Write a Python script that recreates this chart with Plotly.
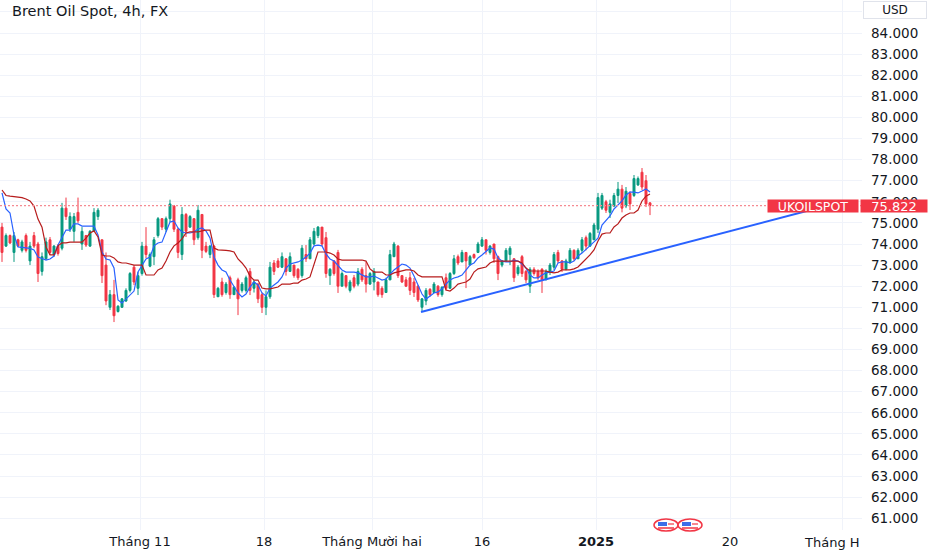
import plotly.graph_objects as go

# 4h candles, Brent Oil Spot
opens = [74.8, 73.9, 74.4, 73.6, 74.2, 73.7, 74.4, 73.2, 74.4, 74.0,
         72.7, 73.3, 74.2, 73.5, 73.9, 73.8, 75.7, 74.7, 74.6, 75.5,
         74.0, 74.4, 73.9, 74.6, 75.3, 74.2, 73.0, 71.0, 71.6, 70.8,
         71.0, 71.3, 71.8, 72.9, 71.9, 72.6, 73.9, 72.95, 73.4, 74.4,
         75.2, 74.7, 75.2, 75.8, 74.7, 73.5, 75.4, 74.8, 75.2, 74.3,
         75.4, 73.9, 73.5, 73.9, 71.5, 72.2, 71.7, 72.4, 71.6, 72.3,
         71.8, 71.8, 72.7, 71.9, 72.1, 71.6, 71.0, 71.5, 73.1, 73.2,
         72.9, 73.3, 72.7, 73.0, 72.8, 72.5, 73.5, 73.3, 74.0, 74.4,
         74.8, 74.3, 72.5, 73.2, 73.6, 72.0, 72.5, 71.8, 72.4, 72.1,
         72.8, 72.5, 72.1, 72.2, 72.2, 71.9, 71.7, 72.3, 73.4, 73.9,
         72.5, 72.3, 72.4, 72.2, 72.0, 71.0, 71.3, 71.85, 71.7, 72.0,
         71.6, 72.4, 71.9, 72.6, 73.4, 73.15, 73.6, 73.0, 73.5, 73.6,
         73.9, 74.2, 73.6, 74.0, 73.4, 73.0, 73.2, 73.5, 73.3, 72.6,
         73.4, 72.7, 72.0, 72.8, 72.7, 72.8, 72.3, 72.7, 72.9, 73.6,
         73.2, 72.8, 73.1, 73.7, 73.3, 73.7, 74.3, 73.9, 74.2, 74.7,
         75.7, 76.0, 75.5, 75.8, 76.3, 76.6, 75.8, 76.4, 76.3, 76.8,
         77.4, 77.0, 75.95]
highs = [75.0, 74.5, 74.45, 74.57, 74.25, 74.2, 74.5, 74.1, 74.57, 74.1,
         73.6, 74.3, 74.33, 73.95, 74.0, 75.95, 76.2, 75.5, 75.47, 76.2,
         74.8, 74.43, 74.66, 75.7, 75.7, 74.2, 73.6, 71.82, 72.3, 71.1,
         71.44, 71.9, 72.67, 73.0, 72.67, 74.1, 74.8, 73.6, 74.33, 75.28,
         75.23, 75.3, 76.1, 75.85, 74.76, 75.75, 75.47, 75.37, 75.23, 75.85,
         75.4, 74.1, 73.95, 73.95, 71.96, 72.4, 72.2, 72.5, 72.0, 72.4,
         72.2, 72.5, 72.86, 72.3, 72.15, 71.7, 71.8, 73.15, 73.24, 73.33,
         73.6, 73.33, 73.6, 73.0, 72.86, 73.95, 73.95, 74.33, 74.76, 74.85,
         74.8, 74.57, 72.86, 73.24, 73.72, 72.7, 72.53, 72.3, 72.53, 72.86,
         72.9, 73.15, 72.67, 72.86, 72.2, 72.0, 72.4, 73.72, 74.1, 73.95,
         72.53, 72.44, 72.67, 72.39, 72.06, 71.44, 71.91, 71.91, 72.2, 72.05,
         72.0, 72.6, 72.67, 73.48, 73.5, 73.72, 73.62, 73.48, 73.55, 74.1,
         74.33, 74.2, 73.95, 74.0, 73.45, 73.24, 73.81, 73.9, 73.33, 73.0,
         73.48, 72.77, 72.9, 72.9, 72.8, 72.86, 72.8, 73.1, 73.62, 73.72,
         73.24, 73.3, 73.81, 73.75, 73.8, 74.33, 74.4, 74.57, 75.0, 76.42,
         76.42, 76.09, 76.1, 76.42, 76.94, 76.8, 76.7, 76.5, 77.27, 77.2,
         77.6, 77.27, 75.97]
lows = [73.15, 73.86, 74.0, 73.15, 73.86, 73.6, 73.6, 73.0, 73.8, 72.2,
        72.5, 73.24, 73.48, 73.4, 73.45, 73.7, 75.14, 74.57, 74.1, 75.0,
        73.72, 73.86, 73.86, 74.57, 75.14, 72.15, 71.1, 70.87, 70.3, 70.75,
        70.97, 71.25, 71.7, 72.05, 71.58, 72.5, 73.33, 72.9, 73.0, 74.3,
        74.66, 74.57, 75.04, 74.57, 73.33, 73.24, 74.33, 74.76, 73.95, 74.2,
        73.33, 73.57, 73.33, 71.44, 71.49, 71.5, 71.6, 71.4, 71.6, 70.63,
        71.7, 71.7, 71.58, 71.7, 71.2, 70.73, 70.63, 71.4, 72.53, 72.86,
        72.86, 72.5, 72.67, 72.4, 72.29, 72.4, 73.15, 73.3, 73.95, 74.28,
        73.9, 72.4, 72.06, 72.5, 71.68, 72.0, 71.9, 71.7, 71.9, 72.0,
        72.2, 71.7, 72.06, 71.8, 71.5, 71.45, 71.7, 72.29, 73.38, 72.39,
        72.15, 71.96, 71.58, 71.49, 71.25, 70.78, 71.1, 71.5, 71.68, 71.5,
        71.5, 71.8, 71.9, 72.53, 73.0, 73.15, 71.91, 73.0, 73.3, 73.57,
        73.86, 73.5, 73.5, 73.1, 72.29, 72.9, 73.15, 73.0, 72.2, 72.5,
        72.44, 72.15, 71.68, 72.5, 72.3, 71.68, 72.3, 72.53, 72.77, 73.1,
        72.67, 72.75, 73.1, 73.2, 73.3, 73.57, 73.7, 73.86, 74.19, 74.52,
        75.61, 75.47, 75.23, 75.75, 75.94, 75.5, 75.7, 75.61, 76.23, 76.75,
        76.56, 75.75, 75.37]
closes = [73.6, 74.4, 74.05, 74.4, 73.9, 74.1, 73.7, 73.9, 73.9, 72.6,
          73.4, 74.1, 73.6, 73.9, 73.55, 75.7, 75.3, 75.3, 75.3, 75.1,
          74.6, 73.95, 74.6, 75.5, 75.6, 72.5, 71.3, 71.6, 70.6, 71.05,
          71.4, 71.8, 72.6, 72.2, 72.5, 73.9, 73.5, 73.5, 74.2, 75.2,
          74.8, 75.2, 75.9, 74.7, 73.6, 75.4, 74.6, 75.3, 74.2, 75.6,
          73.7, 73.65, 73.9, 71.6, 71.9, 71.6, 72.1, 71.6, 71.95, 71.4,
          72.1, 72.4, 71.8, 72.2, 71.4, 71.0, 71.5, 72.9, 72.7, 72.9,
          73.4, 72.7, 73.4, 72.5, 72.4, 73.8, 73.3, 74.2, 74.6, 74.8,
          74.0, 72.6, 72.8, 72.6, 72.0, 72.6, 72.0, 72.2, 72.0, 72.7,
          72.3, 72.1, 72.6, 72.7, 71.6, 71.6, 72.3, 73.5, 74.0, 72.5,
          72.2, 72.0, 71.8, 71.7, 71.35, 71.4, 71.8, 71.6, 72.1, 71.6,
          71.95, 71.9, 72.6, 73.3, 73.1, 73.6, 73.2, 73.4, 73.35, 74.0,
          74.2, 73.7, 73.9, 73.3, 72.6, 73.2, 73.7, 73.8, 72.4, 72.9,
          72.6, 72.3, 72.8, 72.6, 72.4, 72.3, 72.7, 73.0, 73.5, 73.2,
          72.8, 73.2, 73.7, 73.3, 73.7, 74.2, 73.9, 74.5, 74.9, 76.2,
          76.3, 75.6, 75.9, 76.3, 76.6, 75.7, 76.5, 75.9, 77.1, 77.1,
          76.7, 75.9, 75.822]

# Ichimoku lines (blue conversion, dark red base), one value per candle
conversion_line = [76.42, 75.66, 75.47, 74.43, 73.86, 73.84, 73.81, 73.79, 73.72, 73.38,
                   73.31, 73.24, 73.29, 73.43, 73.95, 74.33, 74.66, 74.66, 74.95, 74.95,
                   74.85, 74.85, 74.85, 74.85, 74.43, 73.62, 73.29, 73.24, 72.86, 71.35,
                   71.20, 71.39, 71.54, 71.77, 72.67, 73.0, 73.29, 73.38, 73.91, 74.05,
                   74.09, 74.57, 75.04, 75.09, 74.76, 74.57, 74.52, 74.52, 74.57, 74.71,
                   74.76, 74.62, 74.29, 73.38, 73.0, 72.77, 72.67, 72.29, 71.96, 71.68,
                   71.49, 71.63, 71.96, 72.2, 72.06, 71.68, 71.54, 71.91, 72.06, 72.2,
                   72.44, 72.86, 73.05, 73.1, 73.15, 73.24, 73.38, 73.57, 73.91, 73.95,
                   73.91, 73.53, 73.29, 73.19, 73.0, 72.77, 72.67, 72.67, 72.67, 72.63,
                   72.53, 72.44, 72.44, 72.48, 72.39, 72.29, 72.34, 72.58, 72.77, 72.91,
                   73.05, 73.0, 72.86, 72.48, 72.01, 71.63, 71.39, 71.54, 71.68, 71.73,
                   71.87, 72.1, 72.29, 72.39, 72.44, 72.53, 72.77, 73.0, 73.1, 73.34,
                   73.48, 73.67, 73.81, 73.76, 73.34, 73.19, 73.15, 73.15, 73.24, 73.19,
                   73.05, 72.86, 72.53, 72.39, 72.39, 72.53, 72.63, 72.67, 72.72, 73.1,
                   73.15, 73.15, 73.1, 73.19, 73.43, 73.57, 73.76, 73.95, 74.09, 74.28,
                   74.9, 75.09, 75.33, 75.66, 75.85, 76.04, 76.32, 76.46, 76.46, 76.42,
                   76.51, 76.61, 76.46]
base_line = [76.56, 76.3, 76.27, 76.25, 76.23, 76.2, 76.13, 76.04, 75.8, 75.18,
             74.8, 73.86, 73.48, 73.48, 73.91, 74.05, 74.05, 74.09, 74.09, 74.09,
             74.09, 74.28, 74.52, 74.62, 74.33, 73.48, 73.43, 73.43, 73.34, 73.15,
             73.1, 73.1, 73.05, 73.0, 73.0, 73.0, 72.53, 72.53, 72.53, 72.77,
             72.86, 73.19, 73.62, 73.91, 74.05, 74.24, 74.52, 74.57, 74.57, 74.57,
             74.62, 74.66, 74.66, 73.81, 73.72, 73.72, 73.7, 73.67, 73.62, 73.29,
             73.1, 72.86, 72.48, 72.29, 72.29, 71.91, 71.87, 71.87, 71.91, 71.96,
             72.1, 72.1, 72.1, 72.15, 72.15, 72.29, 72.34, 72.44, 73.0, 73.62,
             73.62, 73.62, 73.57, 73.48, 73.29, 73.24, 73.24, 73.24, 73.24, 73.24,
             73.24, 73.19, 72.82, 72.67, 72.67, 72.67, 72.53, 72.53, 72.63, 72.67,
             72.72, 72.77, 72.77, 72.72, 72.53, 72.44, 72.44, 72.44, 72.44, 72.44,
             72.44, 71.82, 71.77, 71.91, 72.1, 72.15, 72.2, 72.34, 72.67, 72.82,
             72.86, 72.91, 73.1, 73.19, 73.19, 73.19, 73.19, 73.19, 73.19, 73.19,
             73.1, 72.86, 72.72, 72.72, 72.72, 72.72, 72.72, 72.67, 72.63, 72.67,
             72.77, 72.77, 72.77, 72.82, 72.91, 73.1, 73.29, 73.48, 73.72, 74.14,
             74.47, 74.52, 74.52, 74.81, 74.95, 75.23, 75.37, 75.47, 75.47, 75.61,
             76.04, 76.27, 76.37]
bars = list(range(len(closes)))

# hand drawn trend line (bar index, price)
trend_x = [104.75, 205]
trend_y = [70.78, 75.75]
last_price = 75.822

price_ticks = list(range(61, 86))
price_labels = [f"{v}.000" for v in price_ticks[:-1]] + [""]
time_ticks = [34.5, 65.5, 92.5, 120, 148.5, 182, 210]
time_labels = ["Tháng 11", "18", "Tháng Mười hai", "16", "<b>2025</b>", "20", ""]

UP = "#089981"
DOWN = "#F23645"
TXT = "#131722"
GRID = "#F0F3FA"
FONT = "DejaVu Sans"

# plot area is 862 x 530 px
def px_x(p):
    return p / 862

def px_y(p):
    return (530 - p) / 530

fig = go.Figure()
fig.add_trace(go.Candlestick(
    x=bars, open=opens, high=highs, low=lows, close=closes,
    increasing=dict(line=dict(color=UP, width=1), fillcolor=UP),
    decreasing=dict(line=dict(color=DOWN, width=1), fillcolor=DOWN),
    hoverinfo="skip", showlegend=False))
fig.add_trace(go.Scatter(x=bars, y=conversion_line, mode="lines",
                         line=dict(color="#2962FF", width=1.2),
                         hoverinfo="skip", showlegend=False))
fig.add_trace(go.Scatter(x=bars, y=base_line, mode="lines",
                         line=dict(color="#B71C1C", width=1.2),
                         hoverinfo="skip", showlegend=False))
fig.add_trace(go.Scatter(x=trend_x, y=trend_y, mode="lines",
                         line=dict(color="#2962FF", width=2),
                         hoverinfo="skip", showlegend=False))

shapes = [dict(type="line", xref="paper", x0=0, x1=1, yref="y",
               y0=last_price, y1=last_price,
               line=dict(color="#F58A93", width=1.2, dash="2px,2px"))]

# two economic event flags on the time scale
for cx in [666, 690]:
    cy = 525
    shapes.append(dict(type="circle", xref="paper", yref="paper",
                       x0=px_x(cx - 12), x1=px_x(cx + 12),
                       y0=px_y(cy + 6), y1=px_y(cy - 6),
                       line=dict(color=DOWN, width=1.5), fillcolor="white"))
    shapes.append(dict(type="rect", xref="paper", yref="paper",
                       x0=px_x(cx - 8), x1=px_x(cx + 1),
                       y0=px_y(cy + 1), y1=px_y(cy - 3),
                       line=dict(width=0), fillcolor="#3D6FE8"))
    shapes.append(dict(type="line", xref="paper", yref="paper",
                       x0=px_x(cx - 8), x1=px_x(cx + 8),
                       y0=px_y(cy + 3), y1=px_y(cy + 3),
                       line=dict(color=DOWN, width=1.5)))
    shapes.append(dict(type="line", xref="paper", yref="paper",
                       x0=px_x(cx + 2), x1=px_x(cx + 8),
                       y0=px_y(cy - 1), y1=px_y(cy - 1),
                       line=dict(color=DOWN, width=1.2)))

annotations = [
    dict(text="Brent Oil Spot, 4h, FX", xref="paper", yref="paper",
         x=px_x(10), y=px_y(11), xanchor="left", yanchor="middle",
         showarrow=False, font=dict(family=FONT, size=14.5, color=TXT)),
    dict(text="Tháng H", xref="paper", yref="paper",
         x=px_x(802), y=px_y(542), xanchor="left", yanchor="middle",
         showarrow=False, font=dict(family=FONT, size=13, color=TXT)),
    dict(text="USD", xref="paper", yref="paper",
         x=px_x(895), y=px_y(10), xanchor="center", yanchor="middle",
         width=60, height=14, bgcolor="white", bordercolor="#E0E3EB",
         borderwidth=1, showarrow=False,
         font=dict(family=FONT, size=12, color=TXT)),
    dict(text="UKOILSPOT", xref="paper", yref="y",
         x=px_x(813), y=last_price, xanchor="center", yanchor="middle",
         width=90, height=12, bgcolor=DOWN, borderpad=0, showarrow=False,
         font=dict(family=FONT, size=12.5, color="white")),
    dict(text="75.822", xref="paper", yref="y",
         x=px_x(894), y=last_price, xanchor="center", yanchor="middle",
         width=66, height=12, bgcolor=DOWN, borderpad=0, showarrow=False,
         font=dict(family=FONT, size=13, color="white")),
]

fig.update_layout(
    width=932, height=550,
    margin=dict(l=0, r=70, t=0, b=20),
    paper_bgcolor="white", plot_bgcolor="white",
    showlegend=False, dragmode=False,
    shapes=shapes, annotations=annotations,
    xaxis=dict(range=[-0.5, 215], tickmode="array", tickvals=time_ticks,
               ticktext=time_labels, showgrid=True, gridcolor=GRID,
               zeroline=False, showline=False, ticks="",
               ticklabelstandoff=2,
               rangeslider=dict(visible=False), fixedrange=True,
               tickfont=dict(family=FONT, size=13, color=TXT)),
    yaxis=dict(side="right", range=[60.445, 85.564], tickmode="array",
               tickvals=price_ticks, ticktext=price_labels,
               showgrid=True, gridcolor=GRID, zeroline=False,
               showline=False, ticks="", ticklabelstandoff=8,
               fixedrange=True,
               tickfont=dict(family=FONT, size=13.5, color=TXT)),
)

# the page body keeps its default 8px margin unless reset
fig.write_html("out.html", config={"displayModeBar": False},
               post_script="document.body.style.margin='0';")
